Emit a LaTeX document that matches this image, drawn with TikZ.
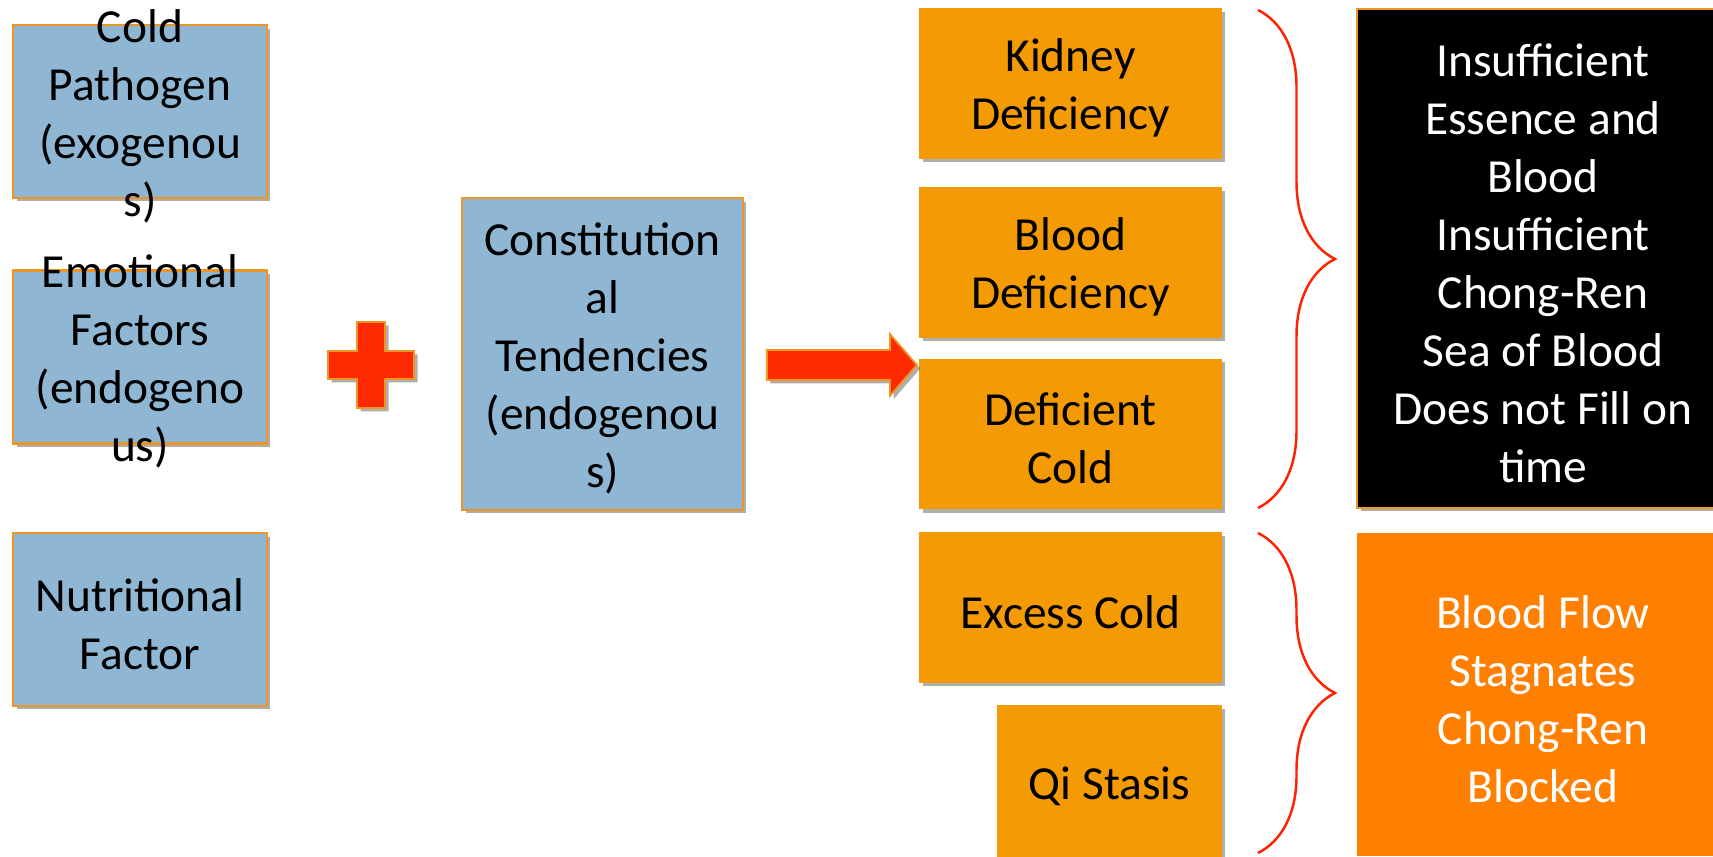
\documentclass[tikz,border=0pt]{standalone}
\usepackage{fontspec}
\setmainfont{Carlito}
\usepackage{tikz}
\usetikzlibrary{shapes.arrows,shadows,decorations.pathreplacing}

\definecolor{boxblue}{HTML}{8FB7D4}
\definecolor{rimorange}{HTML}{EE9624}
\definecolor{colorange}{HTML}{F39A05}
\definecolor{flame}{HTML}{FF2A00}
\definecolor{bracered}{HTML}{FF2200}
\definecolor{floworange}{HTML}{FF7F00}

\tikzset{
	every node/.style={font=\fontsize{27pt}{33pt}\selectfont},
	lift/.style={execute at begin node={\spaceskip=\fontdimen2\font\relax\rule{0pt}{24pt}}},
	boxshadow/.style={drop shadow={shadow xshift=0.07cm,shadow yshift=-0.07cm,opacity=0.45,fill=black!70}},
	causebox/.style={rectangle,fill=boxblue,draw=rimorange,line width=1.2pt,minimum width=5.08cm,minimum height=3.46cm,inner sep=0pt,align=center,text width=5.08cm,lift,boxshadow},
	spill/.style={align=center,text width=5.08cm,inner sep=0pt,lift},
	patternbox/.style={rectangle,fill=colorange,minimum width=6.06cm,minimum height=3.02cm,inner sep=0pt,align=center,text width=6.06cm,lift,boxshadow},
	resultbox/.style={rectangle,minimum width=7.44cm,inner sep=0pt,align=center,text width=7.2cm,text=white,lift},
	bracket/.style={draw=bracered,line width=1.4pt,decorate,decoration={brace,amplitude=1.54cm}}
}

\begin{document}
\begin{tikzpicture}[x=0.02cm,y=-0.02cm]
		\path[use as bounding box] (0,0) rectangle (1713,857);
		\clip (0,0) rectangle (1713,857);

		\node[causebox,label={[spill]center:Cold\\Pathogen\\(exogenou\\s)}] (cold) at (140,111.5) {};
		\node[causebox,label={[spill]center:Emotional\\Factors\\(endogeno\\us)}] (emotion) at (140,357) {};
		\node[causebox] (nutrition) at (140,619.5) {Nutritional\\Factor};

		\draw[fill=flame,draw=rimorange,line width=1pt,boxshadow] (357,322) -- ++(28,0) -- ++(0,29) -- ++(29,0) -- ++(0,28) -- ++(-29,0) -- ++(0,29) -- ++(-28,0) -- ++(0,-29) -- ++(-29,0) -- ++(0,-28) -- ++(29,0) -- cycle;

		\node[causebox,minimum width=5.62cm,minimum height=6.24cm,text width=5.62cm] (constitution) at (602.5,354) {Constitution\\al\\Tendencies\\(endogenou\\s)};

		\node[patternbox] (kidney) at (1070.5,83.5) {Kidney\\Deficiency};
		\node[patternbox] (blooddef) at (1070.5,262.5) {Blood\\Deficiency};
		\node[patternbox] (defcold) at (1070.5,434) {Deficient\\Cold};
		\node[patternbox] (excess) at (1070.5,607.5) {Excess Cold};
		\node[patternbox,minimum width=4.5cm,minimum height=3.06cm,text width=4.5cm] (qi) at (1109.5,781.5) {Qi Stasis};

		\node[single arrow,fill=flame,draw=rimorange,line width=1pt,minimum height=3cm,minimum width=1pt,inner xsep=0pt,inner ysep=0.28cm,single arrow head extend=0.32cm,single arrow tip angle=98,anchor=tip,boxshadow] (push) at (918,365) {};

		\draw[bracket] (1258,10) -- (1258,508);
		\draw[bracket] (1258,533) -- (1258,853);

		\node[resultbox,fill=black,draw=rimorange,line width=1.2pt,minimum height=9.98cm,boxshadow] (essence) at (1543,258.5) {Insufficient\\Essence and\\Blood\\Insufficient\\Chong-Ren\\Sea of Blood\\Does not Fill on\\time};
		\node[resultbox,fill=floworange,minimum height=6.46cm] (flow) at (1543,694.5) {Blood Flow\\Stagnates\\Chong-Ren\\Blocked};
\end{tikzpicture}
\end{document}
